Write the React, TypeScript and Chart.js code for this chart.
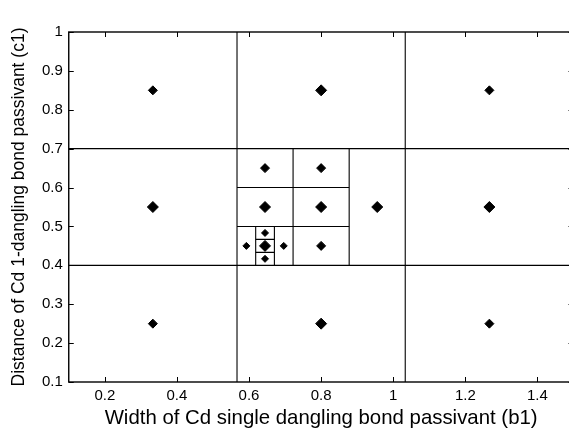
import React, { useEffect, useRef } from 'react';
import { Chart, registerables } from 'chart.js';

Chart.register(...registerables);

// Axis ranges and tick labels
const xRange = [0.1, 1.5];
const yRange = [0.1, 1.0];
const xTickValues = [0.2, 0.4, 0.6, 0.8, 1.0, 1.2, 1.4];
const yTickValues = [0.1, 0.2, 0.3, 0.4, 0.5, 0.6, 0.7, 0.8, 0.9, 1.0];

// Cell boundaries: vertical [x, yFrom, yTo], horizontal [y, xFrom, xTo]
const verticalBoundaries: [number, number, number][] = [
  [0.5667, 0.1, 1.0],
  [1.0333, 0.1, 1.0],
  [0.7222, 0.4, 0.7],
  [0.8778, 0.4, 0.7],
  [0.6185, 0.4, 0.5],
  [0.6704, 0.4, 0.5],
];
const horizontalBoundaries: [number, number, number][] = [
  [0.4, 0.1, 1.5],
  [0.7, 0.1, 1.5],
  [0.5, 0.5667, 0.8778],
  [0.6, 0.5667, 0.8778],
  [0.4333, 0.6185, 0.6704],
  [0.4667, 0.6185, 0.6704],
];

// Sample points (cell centres)
const pointsBold: [number, number][] = [
  [0.8, 0.85], [0.3333, 0.55], [0.8, 0.55], [1.2667, 0.55], [0.8, 0.25],
  [0.6444, 0.55], [0.9556, 0.55], [0.6444, 0.45],
];
const pointsRegular: [number, number][] = [
  [0.3333, 0.85], [1.2667, 0.85], [0.3333, 0.25], [1.2667, 0.25],
  [0.6444, 0.65], [0.8, 0.65], [0.8, 0.45],
];
const pointsSmall: [number, number][] = [
  [0.5926, 0.45], [0.6963, 0.45], [0.6444, 0.4833], [0.6444, 0.4167],
];

const FONT = '"Liberation Sans", Arial, Helvetica, sans-serif';

const framePlugin = {
  id: 'frameTicks',
  afterDatasetsDraw(chart: any) {
    const { ctx, chartArea: a, scales } = chart;
    ctx.save();
    ctx.strokeStyle = '#000';
    ctx.lineWidth = 1.4;
    ctx.strokeRect(a.left, a.top, a.right - a.left, a.bottom - a.top);
    ctx.lineWidth = 1;
    const t = 5;
    ctx.beginPath();
    scales.x.ticks.forEach((tk: any) => {
      const px = Math.round(scales.x.getPixelForValue(tk.value)) + 0.5;
      ctx.moveTo(px, a.bottom);
      ctx.lineTo(px, a.bottom - t);
      ctx.moveTo(px, a.top);
      ctx.lineTo(px, a.top + t);
    });
    scales.y.ticks.forEach((tk: any) => {
      const py = Math.round(scales.y.getPixelForValue(tk.value)) + 0.5;
      ctx.moveTo(a.left, py);
      ctx.lineTo(a.left + t, py);
      ctx.moveTo(a.right, py);
      ctx.lineTo(a.right - t, py);
    });
    ctx.stroke();
    ctx.restore();
  },
};

export default function App() {
  const ref = useRef<HTMLCanvasElement | null>(null);

  useEffect(() => {
    if (!ref.current) return;
    const lineDatasets: any[] = [
      ...verticalBoundaries.map(([x, y0, y1]) => ({
        data: [{ x, y: y0 }, { x, y: y1 }],
      })),
      ...horizontalBoundaries.map(([y, x0, x1]) => ({
        data: [{ x: x0, y }, { x: x1, y }],
      })),
    ].map((d) => ({
      ...d,
      showLine: true,
      borderColor: '#000',
      borderWidth: 1.1,
      pointRadius: 0,
      fill: false,
      order: 2,
    }));

    const pointDataset = (pts: [number, number][], r: number) => ({
      data: pts.map(([x, y]) => ({ x, y })),
      showLine: false,
      pointStyle: 'rectRot',
      pointRadius: r,
      pointBackgroundColor: '#000',
      pointBorderColor: '#000',
      pointBorderWidth: 1,
      order: 0,
    });

    const chart = new Chart(ref.current, {
      type: 'scatter',
      data: {
        datasets: [
          ...lineDatasets,
          pointDataset(pointsRegular, 4.5),
          pointDataset(pointsBold, 5.5),
          pointDataset(pointsSmall, 3.5),
        ],
      },
      options: {
        animation: false,
        responsive: false,
        devicePixelRatio: 1,
        events: [],
        layout: { padding: { left: 0, right: 4, top: 32, bottom: 0 } },
        plugins: { legend: { display: false }, tooltip: { enabled: false } },
        scales: {
          x: {
            type: 'linear',
            min: xRange[0],
            max: xRange[1],
            afterBuildTicks: (s: any) => {
              s.ticks = xTickValues.map((v) => ({ value: v }));
            },
            afterFit: (s: any) => {
              s.height = 55;
            },
            grid: { display: false, drawTicks: false },
            border: { display: false },
            ticks: {
              padding: 5,
              color: '#000',
              font: { family: FONT, size: 15 },
              maxRotation: 0,
              callback: (v: any) => String(Math.round(Number(v) * 10) / 10),
            },
            title: {
              display: true,
              text: 'Width of Cd single dangling bond passivant (b1)',
              color: '#000',
              font: { family: FONT, size: 20.4 },
              padding: { top: 6, bottom: 6 },
            },
          },
          y: {
            type: 'linear',
            min: yRange[0],
            max: yRange[1],
            afterBuildTicks: (s: any) => {
              s.ticks = yTickValues.map((v) => ({ value: v }));
            },
            afterFit: (s: any) => {
              s.width = 68.75;
            },
            grid: { display: false, drawTicks: false },
            border: { display: false },
            ticks: {
              padding: 6,
              color: '#000',
              font: { family: FONT, size: 15 },
              callback: (v: any) => String(Math.round(Number(v) * 10) / 10),
            },
            title: {
              display: true,
              text: 'Distance of Cd 1-dangling bond passivant (c1)',
              color: '#000',
              font: { family: FONT, size: 17.5 },
              padding: { top: 9, bottom: 9 },
            },
          },
        },
      },
      plugins: [framePlugin],
    } as any);
    return () => chart.destroy();
  }, []);

  return (
    <div
      style={{
        position: 'fixed',
        left: 0,
        top: 0,
        width: 569,
        height: 437,
        overflow: 'hidden',
        background: '#fff',
      }}
    >
      <canvas ref={ref} width={580} height={437} style={{ display: 'block' }} />
    </div>
  );
}
